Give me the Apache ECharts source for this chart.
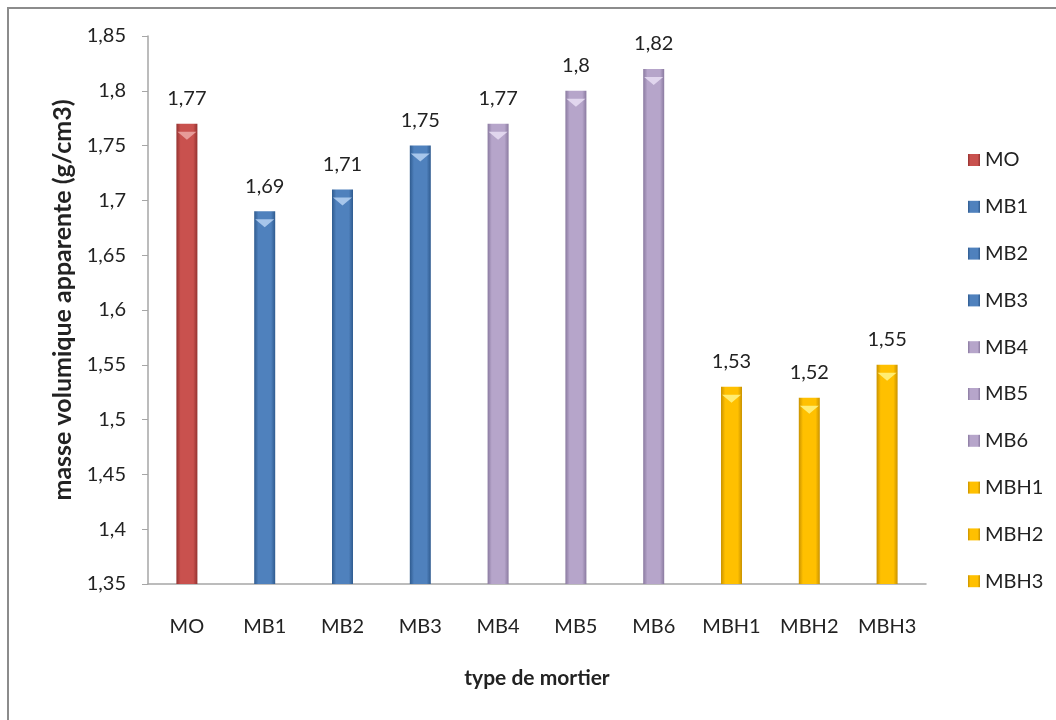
<!DOCTYPE html>
<html>
<head>
<meta charset="utf-8">
<script src="https://cdn.jsdelivr.net/npm/echarts@6/dist/echarts.min.js"></script>
<style>
  html, body { margin: 0; padding: 0; background: #fff; }
  #chart { width: 1056px; height: 720px; }
</style>
</head>
<body>
<div id="chart"></div>
<script>
// Apparent density per mortar type
const categories = ['MO', 'MB1', 'MB2', 'MB3', 'MB4', 'MB5', 'MB6', 'MBH1', 'MBH2', 'MBH3'];
const densities = [1.77, 1.69, 1.71, 1.75, 1.77, 1.8, 1.82, 1.53, 1.52, 1.55];
const yTicks = { min: 1.35, max: 1.85, step: 0.05 };

// colour family per group: base, dark edge, light top bevel
const palette = {
  MO:  ['#c9514e', '#943230', '#eaa3a1'],
  MB:  ['#4f81bd', '#2f5b8f', '#b0cdf0'],
  MBL: ['#b6a5ca', '#8a7aa0', '#e6dcf2'],
  MBH: ['#ffc000', '#c99200', '#fff27e']
};
const groupOf = ['MO', 'MB', 'MB', 'MB', 'MBL', 'MBL', 'MBL', 'MBH', 'MBH', 'MBH'];

const FONT = 'Lato, "Open Sans", "Liberation Sans", sans-serif';
const fmt = v => String(Math.round(v * 100) / 100).replace('.', ',');

function barFill(c) {
  return new echarts.graphic.LinearGradient(0, 0, 1, 0, [
    { offset: 0, color: c[1] },
    { offset: 0.2, color: c[0] },
    { offset: 0.8, color: c[0] },
    { offset: 1, color: c[1] }
  ]);
}

const barSeries = categories.map((name, i) => {
  const c = palette[groupOf[i]];
  return {
    name: name,
    type: 'bar',
    barWidth: 21,
    barGap: '-100%',
    data: categories.map((_, j) => (j === i ? densities[j] : null)),
    itemStyle: { color: barFill(c) },
    label: {
      show: true,
      position: 'top',
      distance: 15,
      formatter: p => fmt(p.value),
      fontFamily: FONT,
      fontSize: 20,
      color: '#222'
    },
    z: 2
  };
});

// light bevel triangle sitting on each bar top
const bevelSeries = {
  name: 'bevel',
  type: 'pictorialBar',
  symbol: 'path://M0,0 L20,0 L10,7 Z',
  symbolSize: [19, 8],
  symbolPosition: 'end',
  symbolOffset: [0, 8],
  silent: true,
  z: 3,
  data: densities.map((v, i) => ({
    value: v,
    itemStyle: { color: palette[groupOf[i]][2], opacity: 0.9 }
  }))
};

const chart = echarts.init(document.getElementById('chart'));
chart.setOption({
  animation: false,
  backgroundColor: '#fff',
  textStyle: { fontFamily: FONT },
  graphic: [{
    type: 'rect',
    shape: { x: 8, y: 8, width: 1200, height: 900 },
    style: { fill: 'none', stroke: '#8c8c8c', lineWidth: 2 },
    silent: true,
    z: -10
  }],
  grid: { left: 148, right: 130, top: 36, bottom: 136 },
  legend: {
    data: categories,
    orient: 'vertical',
    left: 963,
    top: 145,
    itemWidth: 12,
    itemHeight: 12,
    itemGap: 26.8,
    textStyle: { fontFamily: FONT, fontSize: 20, color: '#222' },
    icon: 'rect'
  },
  xAxis: {
    type: 'category',
    data: categories,
    name: 'type de mortier',
    nameLocation: 'middle',
    nameGap: 84,
    nameTextStyle: { fontFamily: FONT, fontSize: 21, fontWeight: 'bold', color: '#222' },
    axisLine: { lineStyle: { color: '#a6a6a6', width: 1.5 } },
    axisTick: { show: false },
    axisLabel: { margin: 33, fontFamily: FONT, fontSize: 20, color: '#222' }
  },
  yAxis: {
    type: 'value',
    min: yTicks.min,
    max: yTicks.max,
    interval: yTicks.step,
    name: 'masse volumique apparente (g/cm3)',
    nameLocation: 'middle',
    nameGap: 73,
    nameTextStyle: { fontFamily: FONT, fontSize: 25, fontWeight: 'bold', color: '#222', padding: [0, 0, 0, 20] },
    axisLine: { show: true, lineStyle: { color: '#a6a6a6', width: 1.5 } },
    axisTick: { show: true, length: 6, lineStyle: { color: '#a6a6a6' } },
    axisLabel: { margin: 22, fontFamily: FONT, fontSize: 20, color: '#222', formatter: fmt },
    splitLine: { show: false }
  },
  series: barSeries.concat([bevelSeries])
});
</script>
</body>
</html>
